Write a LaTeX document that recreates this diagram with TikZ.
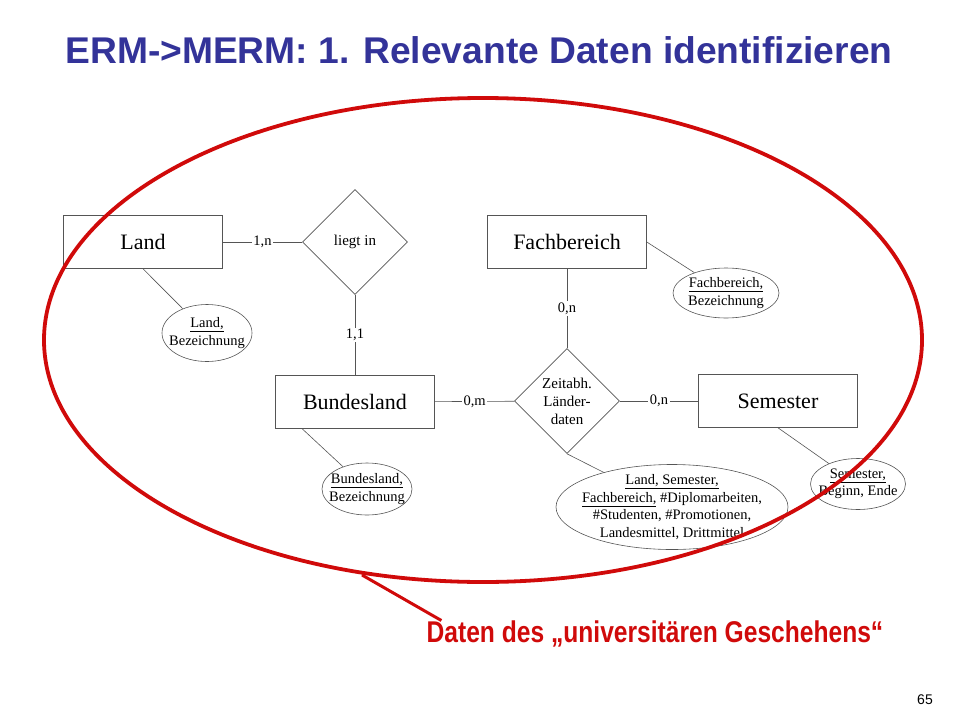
\documentclass[tikz,border=0pt]{standalone}
\usepackage{fontspec}
\setmainfont{Liberation Serif}
\newfontfamily\sansfont{Liberation Sans}
\newfontfamily\narrowfont[FakeStretch=0.82]{Liberation Sans}
\usepackage{tikz}
\usetikzlibrary{shapes.geometric,shapes,calc,positioning}
\definecolor{titleblue}{HTML}{333399}
\definecolor{markred}{HTML}{D00A0A}
\definecolor{ergray}{HTML}{555555}

\begin{document}
\begin{tikzpicture}[x=1pt, y=-1pt, line width=0.6pt,
   card/.style={fill=white, inner sep=1.5pt, font=\fontsize{14.5}{17}\selectfont}]
   \useasboundingbox (0,0) rectangle (960,720);
   \node (title) [font=\sansfont\bfseries\fontsize{37.2}{40}\selectfont, text=titleblue] at (479,50) {ERM->MERM: 1. Relevante Daten identifizieren};
   \begin{scope}[every node/.style={rectangle,draw=ergray,minimum width=159pt,minimum height=53pt,font=\fontsize{22}{26}\selectfont}]
    \node (land) at (143,242) {Land};
    \node (fb) at (567,242) {Fachbereich};
    \node (bl) at (355,402) {Bundesland};
    \node (sem) at (778,401) {Semester};
   \end{scope}
   \begin{scope}[every node/.style={diamond,draw=ergray,minimum width=105pt,minimum height=105pt,inner sep=1pt,align=center,font=\fontsize{15}{18}\selectfont}]
    \node (liegt) at (355,242) {liegt in};
    \node (zeit) at (567,401) {Zeitabh.\\Länder-\\daten};
   \end{scope}
   \begin{scope}[every node/.style={ellipse,draw=ergray,inner sep=-10pt,align=center,font=\fontsize{14.5}{17.5}\selectfont}]
    \node (landattr) [minimum width=90pt, minimum height=57pt] at (207,333) {\underline{Land,}\\Bezeichnung};
    \node (fbattr) [minimum width=106pt, minimum height=50pt] at (726,293) {\underline{Fachbereich,}\\Bezeichnung};
    \node (blattr) [minimum width=90pt, minimum height=52pt] at (367,489) {\underline{Bundesland,}\\Bezeichnung};
    \node (semattr) [minimum width=95pt, minimum height=51pt] at (858,484) {\underline{Semester,}\\Beginn, Ende};
    \node (dataattr) [minimum width=232pt, minimum height=85pt] at (672,507) {\underline{Land, Semester,}\\\underline{Fachbereich,} \#Diplomarbeiten,\\\#Studenten, \#Promotionen,\\Landesmittel, Drittmittel};
   \end{scope}
   \begin{scope}[every edge/.style={draw=ergray,line width=0.6pt}]
    \draw (land) edge node[card]{1,n} (liegt);
    \draw (liegt) edge node[card]{1,1} (bl);
    \draw (fb) edge node[card]{0,n} (zeit);
    \draw (bl) edge node[card]{0,m} (zeit);
    \draw (zeit) edge node[card]{0,n} (sem);
    \draw (land.south) edge (landattr);
    \draw (fb.east) edge (fbattr);
    \draw ([xshift=27pt]bl.south west) edge (blattr);
    \draw (sem.south) edge (semattr);
    \draw (zeit.south) edge (dataattr);
   \end{scope}
   \draw [markred, line width=3.8pt] (483,340) ellipse [x radius=439, y radius=242];
   \node (note) [inner sep=0pt, text=markred, font=\narrowfont\bfseries\fontsize{30}{34}\selectfont] at (655,634) {Daten des „universitären Geschehens“};
   \coordinate (tip) at (362,575);
   \draw [markred, line width=3pt] (tip) -- ([xshift=15pt]note.north west);
   \node (page) [font=\sansfont\fontsize{14}{16}\selectfont] at (925,700) {65};
\end{tikzpicture}
\end{document}
